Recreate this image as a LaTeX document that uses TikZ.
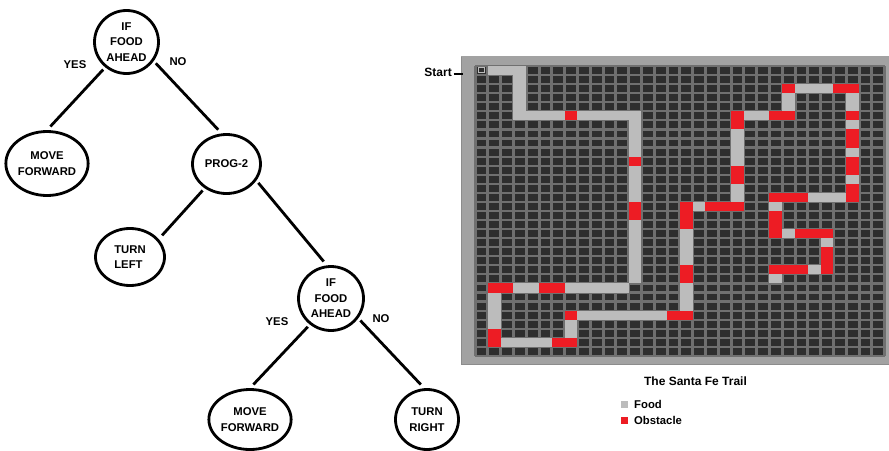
\documentclass[tikz,border=0pt]{standalone}
\usepackage{fontspec}
\setmainfont{Liberation Sans}
\usetikzlibrary{shapes.geometric}

\definecolor{trailgray}{RGB}{188,188,188}
\definecolor{trailred}{RGB}{237,28,36}
\definecolor{cellgray}{RGB}{46,46,46}
\definecolor{linegray}{RGB}{112,112,112}
\definecolor{framegray}{RGB}{162,162,162}

\tikzset{
  every node/.style={font=\bfseries\fontsize{11.3}{15.5}\selectfont},
  op/.style={ellipse, draw, line width=2.8pt, inner sep=0pt, align=center},
  branch/.style={line width=2.8pt, shorten <=3pt, shorten >=5pt},
  food/.style={fill=trailgray},
  gap/.style={fill=trailred},
}

\begin{document}
\begin{tikzpicture}[x=1pt,y=-1pt]
\useasboundingbox (0,0) rectangle (889,450);

% program tree
\node[op, minimum width=64pt, minimum height=63pt] (root) at (126.5,42) {IF\\FOOD\\AHEAD};
\node[op, minimum width=67pt, minimum height=64pt] (move1) at (47,163.5) {MOVE\\FORWARD};
\node[op, minimum width=68pt, minimum height=59pt] (prog2) at (226.5,164) {PROG-2};
\node[op, minimum width=69pt, minimum height=57pt, align=left] (tleft) at (130,257) {TURN\\LEFT};
\node[op, minimum width=65pt, minimum height=64pt] (if2) at (331,298.5) {IF\\FOOD\\AHEAD};
\node[op, minimum width=67pt, minimum height=60pt] (move2) at (250,419.5) {MOVE\\FORWARD};
\node[op, minimum width=63pt, minimum height=60pt] (tright) at (427,419.5) {TURN\\RIGHT};

\draw[branch] (root.230) -- (move1.north);
\draw[branch] (root.-35) -- (prog2.99);
\draw[branch] (prog2.228) -- (tleft.32);
\draw[branch] (prog2.-29) -- (if2.97);
\draw[branch] (if2.231) -- (move2.north);
\draw[branch] (if2.-36) -- (tright.95);

\node (yes1) at (75,65) {YES};
\node (no1) at (178,62) {NO};
\node (yes2) at (277,322) {YES};
\node (no2) at (381,319) {NO};

% board
\fill[framegray] (461,56) rectangle (895,365);
\draw[black!45, line width=1pt] (461.5,56.5) -- (461.5,364.5) -- (895,364.5);
\begin{scope}[shift={(475,66)}, x=12.8pt, y=-9.06pt]
  \fill[cellgray] (0,0) rectangle (32,32);
  \foreach \i in {0,...,32} {
    \draw[linegray, line width=3pt] (\i,0) -- (\i,32);
    \draw[linegray, line width=2.2pt] (0,\i) -- (32,\i);
  }
  % food along the trail
  \foreach \a/\b/\c/\d in {1/0/4/1, 3/1/4/6, 4/5/7/6, 8/5/13/6, 12/6/13/10,
      12/11/13/15, 12/17/13/24, 7/24/12/25, 3/24/5/25, 1/25/2/29, 2/30/6/31,
      7/28/8/30, 8/27/15/28, 16/24/17/27, 16/18/17/22, 17/15/18/16,
      20/13/21/15, 20/7/21/11, 21/5/23/6, 24/3/25/5, 25/2/28/3, 29/3/30/5,
      29/6/30/7, 29/9/30/10, 29/12/30/13, 26/14/29/15, 23/15/24/16,
      24/18/25/19, 27/19/28/20, 26/22/27/23, 23/23/24/24}
    \fill[food] (\a,\b) rectangle (\c,\d);
  % gaps in the trail
  \foreach \a/\b/\c/\d in {7/5/8/6, 12/10/13/11, 12/15/13/17, 5/24/7/25,
      1/24/3/25, 1/29/2/31, 6/30/8/31, 7/27/8/28, 15/27/17/28, 16/22/17/24,
      16/15/17/18, 18/15/21/16, 20/11/21/13, 20/5/21/7, 23/5/25/6, 24/2/25/3,
      28/2/30/3, 29/5/30/6, 29/7/30/9, 29/10/30/12, 29/13/30/15, 23/14/26/15,
      23/16/24/19, 25/18/28/19, 27/20/28/23, 23/22/26/23}
    \fill[gap] (\a,\b) rectangle (\c,\d);
  \draw[trailgray, line width=1.2pt] (0.25,0.2) rectangle (0.75,0.75);
\end{scope}

\node[anchor=east, inner sep=0pt, font=\bfseries\fontsize{12}{14}\selectfont] (start) at (452,72.5) {Start};
\coordinate (boardedge) at (463,73.7);
\draw[line width=1.7pt, shorten <=1.5pt] (start.east |- boardedge) -- (boardedge);

% legend
\node[font=\bfseries\fontsize{12}{14}\selectfont] (title) at (695.5,381.5) {The Santa Fe Trail};
\node[food, minimum size=7.6pt, inner sep=0pt] (foodkey) at (624.5,404.5) {};
\node[anchor=west, inner sep=0pt] (foodtext) at (634,404.5) {Food};
\node[gap, minimum size=7.6pt, inner sep=0pt] (gapkey) at (624.5,420.3) {};
\node[anchor=west, inner sep=0pt] (gaptext) at (634,420.3) {Obstacle};

\end{tikzpicture}
\end{document}
